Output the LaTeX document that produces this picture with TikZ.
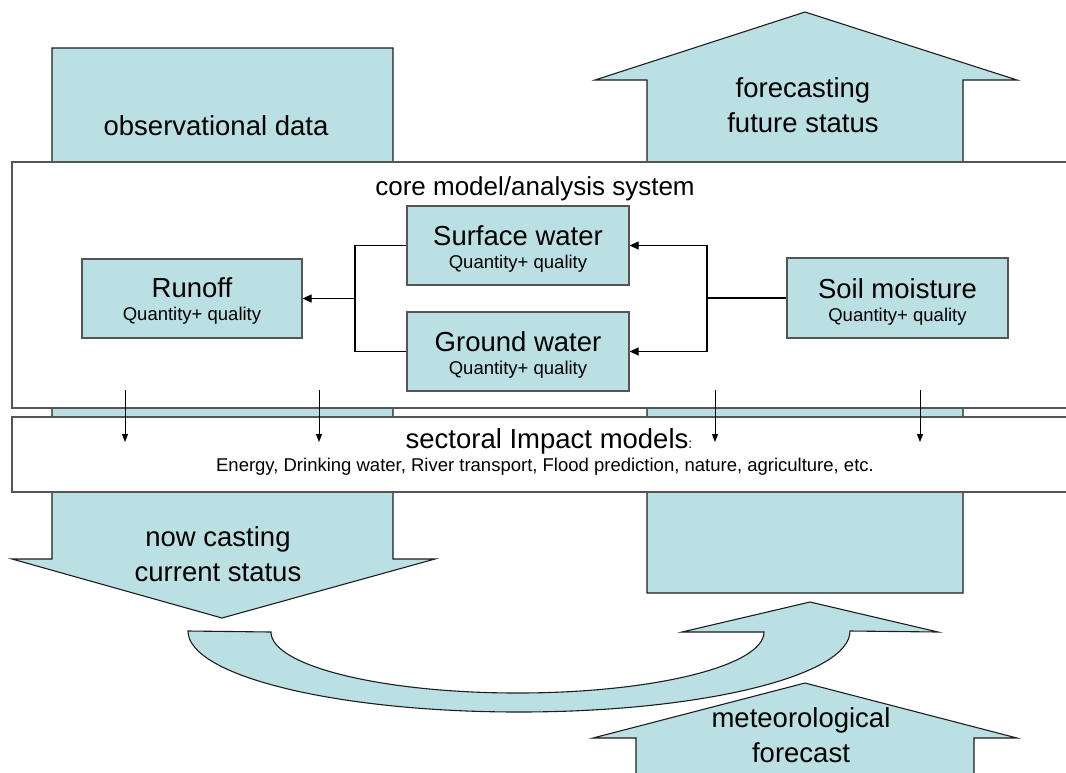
\documentclass[tikz,border=0pt]{standalone}
\usepackage{fontspec}
\setmainfont{Liberation Sans}
\usetikzlibrary{arrows.meta}
\definecolor{bluefill}{RGB}{186,224,227}
\definecolor{edgecol}{RGB}{30,30,30}
\definecolor{boxedge}{RGB}{85,85,85}
\newcommand\myfs[1]{\fontsize{#1}{#1}\selectfont}
\begin{document}
\begin{tikzpicture}[x=1pt,y=-1pt,
  bigarrow/.style={fill=bluefill, draw=edgecol, line width=1.1pt, line join=miter},
  panel/.style={fill=white, draw=boxedge, line width=1.5pt},
  qbox/.style={rectangle, fill=bluefill, draw=boxedge, line width=1.2pt, minimum height=79pt, inner sep=0},
  bigtxt/.style={inner sep=0, anchor=base, font=\myfs{27.5}},
  qtxt/.style={inner sep=0, anchor=base, font=\myfs{18.5}},
  conn/.style={draw=black, line width=1.2pt},
  tipped/.style={-{Triangle[length=9pt,width=8pt]}},
  downarr/.style={draw=black, line width=0.9pt, -{Triangle[length=8pt,width=6pt]}}
]
\useasboundingbox (0,0) rectangle (1066,772);

% left column: down arrow
\draw[bigarrow] (52,48) -- (393,48) -- (393,559) -- (435,559) -- (222,618) -- (12,559) -- (52,559) -- cycle;
% right column: up arrow
\draw[bigarrow] (647,593) -- (647,80) -- (595,80) -- (805,12) -- (1017,80) -- (963,80) -- (963,593) -- cycle;
% curved arrow
\draw[bigarrow] (188,631) arc[start angle=180, end angle=360, x radius=331pt, y radius=81pt]
  -- (938,632) -- (810,602) -- (682,632) -- (764,632)
  arc[start angle=0, end angle=-180, x radius=246.5pt, y radius=61pt] -- cycle;
% meteorological forecast arrow
\draw[bigarrow] (636,790) -- (636,738) -- (593,738) -- (805,683) -- (1017,738) -- (974,738) -- (974,790) -- cycle;

% panels
\draw[panel] (12,162) rectangle (1075,408);
\draw[panel] (12,417) rectangle (1075,492);

% model boxes
\node[qbox, minimum width=220pt] (runoff) at (192,298.5) {};
\node[qbox, minimum width=222pt] (surface) at (518,245.5) {};
\node[qbox, minimum width=222pt] (ground) at (518,351.5) {};
\node[qbox, minimum width=221pt, minimum height=80pt] (soil) at (897.5,298) {};

% connectors
\coordinate (jl) at (355,298.5);
\coordinate (jr) at (707,298);
\draw[conn] (surface.west) -| (jl);
\draw[conn] (ground.west) -| (jl);
\draw[conn, tipped] (jl) -- (runoff.east);
\draw[conn] (soil.west) -- (jr);
\draw[conn, tipped] (jr) |- (surface.east);
\draw[conn, tipped] (jr) |- (ground.east);

% down arrows into impact models
\coordinate (d1s) at (125,390); \coordinate (d1e) at (125,442);
\coordinate (d2s) at (319,390); \coordinate (d2e) at (319,442);
\coordinate (d3s) at (715,390); \coordinate (d3e) at (715,442);
\coordinate (d4s) at (920,390); \coordinate (d4e) at (920,442);
\draw[downarr] (d1s) -- (d1e);
\draw[downarr] (d2s) -- (d2e);
\draw[downarr] (d3s) -- (d3e);
\draw[downarr] (d4s) -- (d4e);

% texts
\node[bigtxt] (obsT) at (216,135) {observational data};
\node[bigtxt] (fc1) at (803,97) {forecasting};
\node[bigtxt] (fc2) at (803,132) {future status};
\node[inner sep=0, anchor=base, font=\myfs{26}] (coreT) at (535,195) {core model/analysis system};

\node[bigtxt] (runoffT) at (192,297) {Runoff};
\node[qtxt] (runoffQ) at (192,320) {Quantity+ quality};
\node[bigtxt] (surfaceT) at (518,245) {Surface water};
\node[qtxt] (surfaceQ) at (518,268) {Quantity+ quality};
\node[bigtxt] (groundT) at (518,351) {Ground water};
\node[qtxt] (groundQ) at (518,374) {Quantity+ quality};
\node[bigtxt] (soilT) at (897.5,298) {Soil moisture};
\node[qtxt] (soilQ) at (897.5,321) {Quantity+ quality};

\node[inner sep=0, anchor=base, font=\myfs{27.5}] (sectT) at (549,448) {sectoral Impact models{\myfs{14}:}};
\node[qtxt] (sectQ) at (545,471) {Energy, Drinking water, River transport, Flood prediction, nature, agriculture, etc.};

\node[bigtxt] (nc1) at (218,546) {now casting};
\node[bigtxt] (nc2) at (218,581) {current status};
\node[bigtxt] (mf1) at (801,727) {meteorological};
\node[bigtxt] (mf2) at (801,762) {forecast};
\end{tikzpicture}
\end{document}
